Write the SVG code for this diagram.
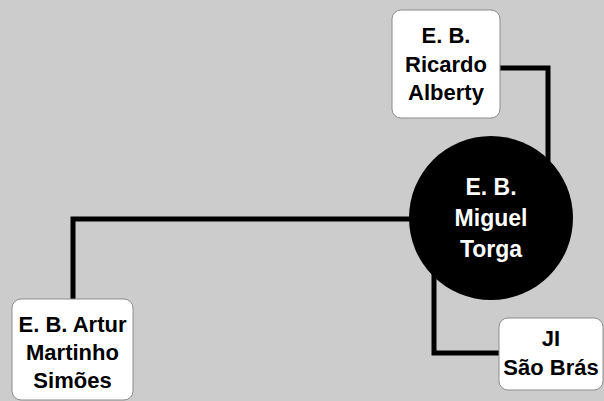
<svg xmlns="http://www.w3.org/2000/svg" width="604" height="401" viewBox="0 0 604 401">
<style>
.box{fill:#ffffff;stroke:#8c8c8c;stroke-width:1}
.t{font-family:"Liberation Sans",Arial,sans-serif;font-weight:bold;font-size:22px;text-anchor:middle;fill:#000}
.w{fill:#ffffff;font-size:23px}
.c{fill:none;stroke:#000;stroke-width:5;stroke-linejoin:miter}
</style>
<rect width="604" height="401" fill="#cccccc"/>
<g id="connectors">
<polyline class="c" points="500,68 548,68 548,170"/>
<polyline class="c" points="420,219 73,219 73,299"/>
<polyline class="c" points="434,265 434,353 499,353"/>
</g>
<g id="miguel-torga">
<circle cx="491" cy="218" r="82" fill="#000"/>
<text class="t w" x="491" y="195">E. B.</text>
<text class="t w" x="491" y="226">Miguel</text>
<text class="t w" x="491" y="257">Torga</text>
</g>
<g id="ricardo-alberty">
<rect class="box" x="392" y="10" width="108" height="108" rx="9"/>
<text class="t" x="446" y="43">E. B.</text>
<text class="t" x="446" y="72">Ricardo</text>
<text class="t" x="446" y="100">Alberty</text>
</g>
<g id="artur-martinho-simoes">
<rect class="box" x="12" y="299" width="121" height="101" rx="9"/>
<text class="t" x="72.5" y="332">E. B. Artur</text>
<text class="t" x="72.5" y="360">Martinho</text>
<text class="t" x="72.5" y="388">Simões</text>
</g>
<g id="ji-sao-bras">
<rect class="box" x="499" y="318" width="104" height="72" rx="9"/>
<text class="t" x="551" y="346">JI</text>
<text class="t" x="551" y="375">São Brás</text>
</g>
</svg>
